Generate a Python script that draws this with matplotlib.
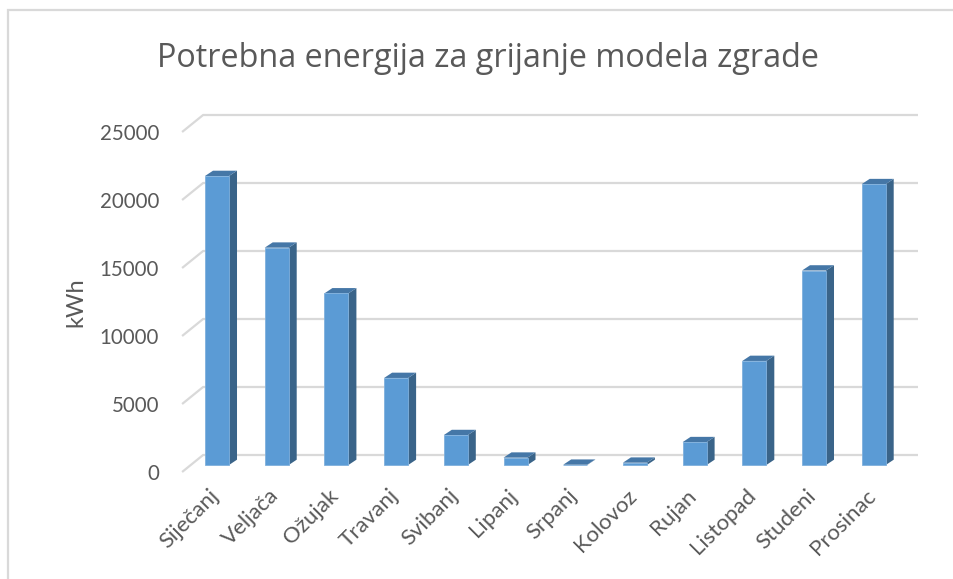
import matplotlib.pyplot as plt
from matplotlib.patches import Polygon, Rectangle
import numpy as np

plt.rcParams['font.family'] = ['Lato', 'DejaVu Sans']

months = ['Siječanj', 'Veljača', 'Ožujak', 'Travanj', 'Svibanj', 'Lipanj',
          'Srpanj', 'Kolovoz', 'Rujan', 'Listopad', 'Studeni', 'Prosinac']
energy = [21250, 15980, 12620, 6400, 2200, 540, 20, 170, 1680, 7650, 14300, 20650]
yticks = [0, 5000, 10000, 15000, 20000, 25000]

title = 'Potrebna energija za grijanje modela zgrade'
ylabel = 'kWh'

text_col = '#595959'
grid_col = '#d9d9d9'
face_col = '#5b9bd5'
side_col = '#3a6489'
top_col = '#4577a7'

fig = plt.figure(figsize=(9.54, 5.79), dpi=100)
ax = fig.add_axes([0, 0, 1, 1])
ax.set_xlim(-3.635, 12.345)
ax.set_ylim(-8382, 34191)
ax.axis('off')

# outer chart border
fig.patches.append(Rectangle((8 / 954, -0.1), 1.2, 1 - 10 / 579 + 0.1,
                             transform=fig.transFigure, fill=False,
                             edgecolor=grid_col, linewidth=1.6))

# pseudo-3D offsets (category units, value units)
back_dx, back_dy = 0.207, 735
front_dx, front_dy = -0.145, -515
x0, x1 = -0.44, 11.535

for v in yticks:
    ax.plot([x0 + front_dx, x0 + back_dx, x1 + back_dx],
            [v + front_dy, v + back_dy, v + back_dy],
            color=grid_col, lw=1.6, solid_capstyle='butt', zorder=1)
    ax.text(-0.97, v + front_dy - 180, f'{v}', ha='right', va='center',
            fontsize=14.8, color=text_col)

hw = 0.201
ddx, ddy = 0.134, 390
for i, v in enumerate(energy):
    side = [(i + hw, 0), (i + hw + ddx, ddy), (i + hw + ddx, v + ddy), (i + hw, v)]
    top = [(i - hw, v), (i + hw, v), (i + hw + ddx, v + ddy), (i - hw + ddx, v + ddy)]
    ax.add_patch(Polygon(side, closed=True, facecolor=side_col, edgecolor='none', zorder=2))
    ax.add_patch(Polygon(top, closed=True, facecolor=top_col, edgecolor='none', zorder=2))
    ax.add_patch(Rectangle((i - hw, 0), 2 * hw, v, facecolor=face_col,
                           edgecolor='#7fb0dd', linewidth=0.6, zorder=3))
    ax.text(i + 0.1, -1500, months[i], rotation=45, ha='right', va='top',
            fontsize=16, color=text_col)

ax.text(-2.37, 11950, ylabel, rotation=90, ha='center', va='center',
        fontsize=17, color=text_col)
ax.text(4.54, 29900, title, ha='center', va='center', fontsize=23.3,
        color=text_col, family=['Open Sans', 'DejaVu Sans'])

fig.savefig('out.png', dpi=100)
